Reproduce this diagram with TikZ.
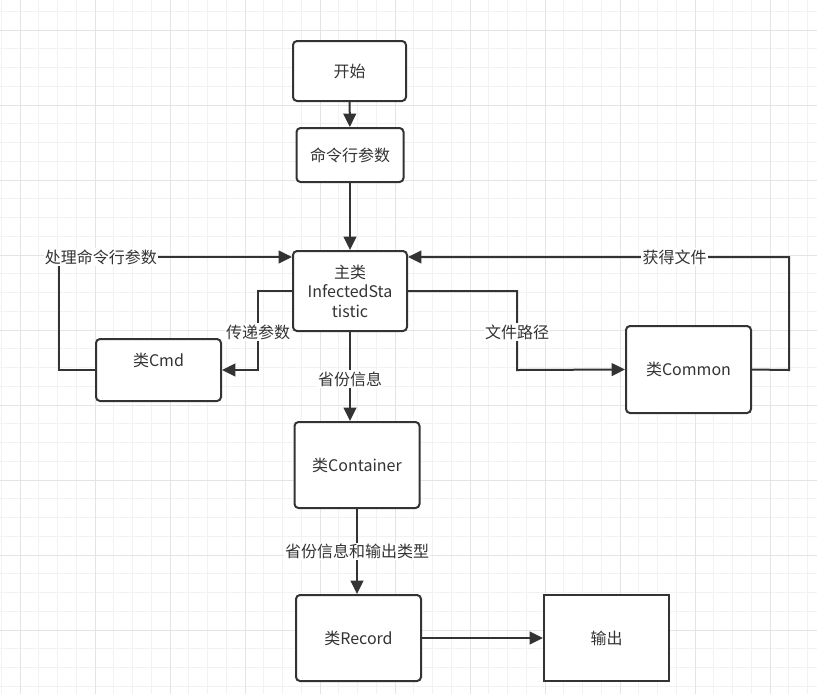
\documentclass[tikz,border=0pt]{standalone}
\usepackage{fontspec}
\setmainfont{Noto Sans CJK SC}
\usetikzlibrary{arrows.meta}
\definecolor{linegray}{HTML}{333333}
\definecolor{minorgray}{HTML}{F2F2F2}
\definecolor{majorgray}{HTML}{E4E4E4}
\begin{document}
\begin{tikzpicture}[x=0.75pt,y=-0.75pt,>={Triangle[length=10pt,width=9.5pt]}]
        \tikzstyle{classbox}=[rectangle,rounded corners=3pt,line width=1.5pt,draw=linegray,fill=white,text=linegray,align=center,font=\fontsize{12}{14.6}\selectfont,minimum width=93.75pt,minimum height=64.5pt]
        \tikzstyle{edge}=[draw=linegray,line width=1.5pt,->]
        \tikzstyle{lbl}=[fill=white,text=linegray,inner sep=1pt,font=\fontsize{12}{14}\selectfont]
        \useasboundingbox[fill=white] (0,0) rectangle (817,694);
        % grid
        \foreach \i in {-1,...,42}
          \draw[minorgray,line width=0.75pt] ({20+\i*18.75},0) -- ({20+\i*18.75},694);
        \foreach \i in {-1,...,35}
          \draw[minorgray,line width=0.75pt] (0,{30+\i*18.75}) -- (817,{30+\i*18.75});
        \foreach \i in {0,...,10}
          \draw[majorgray,line width=0.75pt] ({20+\i*75},0) -- ({20+\i*75},694);
        \foreach \i in {0,...,8}
          \draw[majorgray,line width=0.75pt] (0,{30+\i*75}) -- (817,{30+\i*75});
       \begin{scope}
         \node [classbox,minimum width=84.75pt,minimum height=45pt] (start) at (349.5,71) {开始};
         \node [classbox,minimum width=80.25pt,minimum height=40.5pt] (args) at (350,155) {命令行参数};
         \node [classbox,minimum width=85.5pt,minimum height=60pt] (main) at (350,291) {主类\\InfectedSta\\tistic};
         \node [classbox,minimum height=46.5pt,text depth=16pt] (cmd) at (158.5,370) {类Cmd};
         \node [classbox,minimum height=65.25pt] (common) at (688.5,369.5) {类Common};
         \node [classbox] (container) at (357,465) {类Container};
         \node [classbox] (record) at (358.5,638) {类Record};
         \node [classbox,sharp corners] (output) at (606.5,638) {输出};
         \coordinate (cmdturn) at (59,370);
         \coordinate (maintop) at (350,257);
         \coordinate (commonturn) at (789,370);
         \path[edge] (start) -- (args);
         \path[edge] (args) -- (main);
         \path[edge] (cmd.west) -- (cmdturn) |- node[lbl,pos=0.59] {处理命令行参数} (maintop -| main.west);
         \path[edge] (main.west) -- (258,291) -- node[lbl,pos=0.52] {传递参数} (258,370) -- (cmd.east);
         \path[edge] (main.east) -- (517,291) -- node[lbl,pos=0.52] {文件路径} (517,370) -- (common.west);
         \path[edge] (common.east) -- (commonturn) |- node[lbl,pos=0.65] {获得文件} (maintop -| main.east);
         \path[edge] (main.south) -- node[lbl,pos=0.53] {省份信息} (main.south |- container.north);
         \path[edge] (container.south) -- node[lbl,pos=0.5] {省份信息和输出类型} (container.south |- record.north);
         \path[edge] (record) -- (output);
        \end{scope}
      \end{tikzpicture}
\end{document}
